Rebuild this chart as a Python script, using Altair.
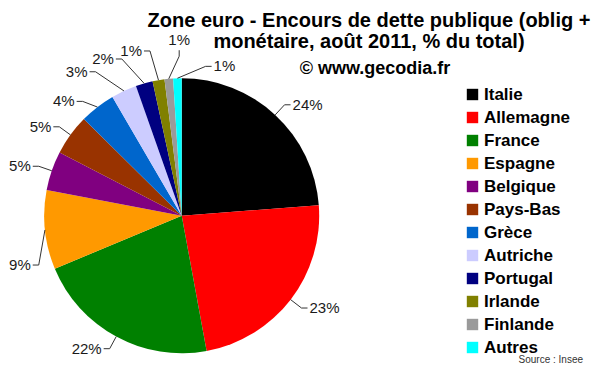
import math
import altair as alt
import pandas as pd

# ---------------- data ----------------
countries = ["Italie", "Allemagne", "France", "Espagne", "Belgique", "Pays-Bas",
             "Grèce", "Autriche", "Portugal", "Irlande", "Finlande", "Autres"]
shares = [23.8, 23.3, 21.6, 9.3, 4.6, 4.8, 4.2, 3.0, 2.0, 1.4, 1.0, 1.0]
colors = ["#000000", "#FF0000", "#008000", "#FF9900", "#800080", "#993300",
          "#0066CC", "#CCCCFF", "#000080", "#808000", "#9A9A9A", "#00FFFF"]
title_line1 = "Zone euro - Encours de dette publique (oblig +"
title_line2 = "monétaire, août 2011, % du total)"
credit = "© www.gecodia.fr"
source_note = "Source : Insee"

# ---------------- layout ----------------
FONT = "Liberation Sans"
W, H = 584, 356                  # whole drawing area (page minus 8px margins)
CX, CY, R = 173.7, 207.7, 137.5  # pie centre and radius in px
RE = 1.10                        # elbow radius of the leader lines (in radii)
RE_TOP = 1.22                    # elbow radius for crowded side labels left of the top
RE_UP = 1.16                     # elbow radius for labels placed above the pie
TAIL = 6.0                       # tail of the leader lines, px
GAP = 2.0
LABEL_SIZE = 15
SEP = 10.0                       # minimum angular gap between labels, degrees

n = len(countries)
total = sum(shares)
labels = [f"{round(s)}%" for s in shares]

mids = []
acc = 0.0
for s in shares:
    mids.append((acc + s / 2) / total * 360.0)
    acc += s


def signed_diff(a, b):
    return ((b - a + 180.0) % 360.0) - 180.0


# simple label repulsion around the circle
ang = list(mids)
for _ in range(800):
    for i in range(n):
        j = (i + 1) % n
        gap = signed_diff(ang[i], ang[j])
        if gap < SEP:
            d = (SEP - gap) / 2
            ang[i] -= d
            ang[j] += d

CW = {"%": 0.889}


def text_width(t):
    return LABEL_SIZE * sum(CW.get(c, 0.556) for c in t)


def side_of(a):
    s = math.sin(math.radians(a))
    if s >= 0.12:
        return "left"
    if s <= -0.12:
        return "right"
    return "top" if math.cos(math.radians(a)) > 0 else "bottom"


def elbow_r(a):
    r = math.radians(a)
    sd = side_of(a)
    if sd == "top":
        return RE_UP
    if math.cos(r) > 0.85 and math.sin(r) < 0:
        return RE_TOP
    return RE


def fits(a, w):
    ex = CX + elbow_r(a) * R * math.sin(math.radians(a))
    sd = side_of(a)
    if sd == "right":
        return ex - TAIL - GAP - w >= 1
    if sd == "left":
        return ex + TAIL + GAP + w <= W - 1
    return True


for i in range(n):
    w = text_width(labels[i])
    if not fits(ang[i], w):
        best = ang[i]
        found = False
        for k in range(1, 1800):
            for sgn in (-1, 1):
                a = ang[i] + sgn * k * 0.1
                if fits(a, w):
                    best = a
                    found = True
                    break
            if found:
                break
        ang[i] = best

rows_line, rows_text = [], []
t = TAIL / R
for i, c in enumerate(countries):
    m = math.radians(mids[i])
    a = math.radians(ang[i])
    re = elbow_r(ang[i])
    p0 = (math.sin(m), math.cos(m))
    p1 = (re * math.sin(a), re * math.cos(a))
    sd = side_of(ang[i])
    if sd == "left":
        p2 = (p1[0] + t, p1[1])
    elif sd == "right":
        p2 = (p1[0] - t, p1[1])
    elif sd == "top":
        p2 = (p1[0], p1[1] + t)
    else:
        p2 = (p1[0], p1[1] - t)
    for k, p in enumerate((p0, p1, p2)):
        rows_line.append({"country": c, "step": k, "lx": p[0], "ly": p[1]})
    rows_text.append({"country": c, "label": labels[i], "side": sd, "lx": p2[0], "ly": p2[1]})

xs = alt.Scale(domain=[-CX / R, (W - CX) / R], nice=False, zero=False)
ys = alt.Scale(domain=[-(H - CY) / R, CY / R], nice=False, zero=False)

pie_df = pd.DataFrame({"country": countries, "share": shares, "idx": list(range(n))})

pie = alt.Chart(pie_df).mark_arc(outerRadius=R, stroke=None).encode(
    theta=alt.Theta("share:Q", stack=True),
    order=alt.Order("idx:Q", sort="ascending"),
    color=alt.Color(
        "country:N", sort=countries,
        scale=alt.Scale(domain=countries, range=colors),
        legend=alt.Legend(
            title=None, orient="none", direction="vertical",
            legendX=456, legendY=78, padding=0,
            symbolType="square", symbolSize=130, symbolStrokeWidth=0,
            labelFont=FONT, labelFontSize=17, labelFontWeight="bold",
            labelColor="black", rowPadding=5, labelOffset=3,
        ),
    ),
    x=alt.XDatum(0, type="quantitative", scale=xs, axis=None),
    y=alt.YDatum(0, type="quantitative", scale=ys, axis=None),
)

leaders = alt.Chart(pd.DataFrame(rows_line)).mark_line(
    color="#333333", strokeWidth=1
).encode(
    x=alt.X("lx:Q", scale=xs, axis=None),
    y=alt.Y("ly:Q", scale=ys, axis=None),
    detail="country:N",
    order="step:Q",
)

tdf = pd.DataFrame(rows_text)
base_t = alt.Chart(tdf).encode(
    x=alt.X("lx:Q", scale=xs, axis=None),
    y=alt.Y("ly:Q", scale=ys, axis=None),
    text="label:N",
)
tstyle = dict(font=FONT, fontSize=LABEL_SIZE, color="#1a1a1a")
t_left = base_t.transform_filter(alt.datum.side == "left").mark_text(
    align="left", baseline="middle", dx=GAP, **tstyle)
t_right = base_t.transform_filter(alt.datum.side == "right").mark_text(
    align="right", baseline="middle", dx=-GAP, **tstyle)
t_top = base_t.transform_filter(alt.datum.side == "top").mark_text(
    align="center", baseline="bottom", dy=-GAP, **tstyle)
t_bottom = base_t.transform_filter(alt.datum.side == "bottom").mark_text(
    align="center", baseline="top", dy=GAP, **tstyle)


def note(txt, x, y, size, weight, align="center", color="black"):
    return alt.Chart(pd.DataFrame({"t": [txt]})).mark_text(
        align=align, baseline="alphabetic", font=FONT, fontSize=size,
        fontWeight=weight, color=color,
    ).encode(text="t:N", x=alt.value(x), y=alt.value(y))


n1 = note(title_line1, 361, 19.3, 20, "bold")
n2 = note(title_line2, 361, 39.5, 20, "bold")
n3 = note(credit, 367, 66, 18, "bold")
n4 = note(source_note, 575, 355, 10, "normal", align="right", color="#333333")

chart = alt.layer(
    pie, leaders, t_left, t_right, t_top, t_bottom, n1, n2, n3, n4
).properties(
    width=W, height=H, padding=0,
    autosize=alt.AutoSizeParams(type="none"),
    background="white",
).configure_view(stroke=None)

chart.save("out.html", embed_options={"renderer": "svg", "actions": False})
